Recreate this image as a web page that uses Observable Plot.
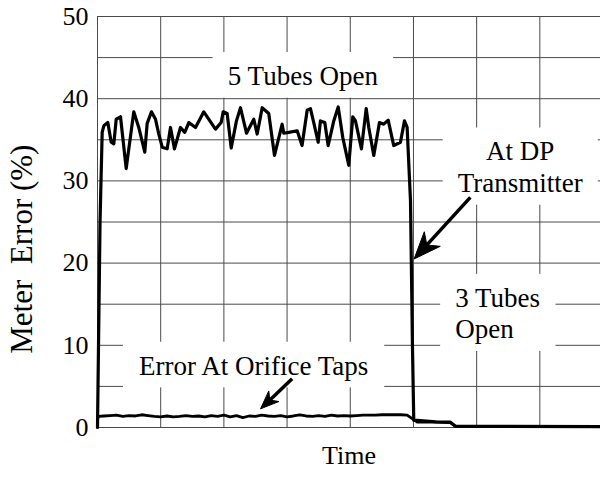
<!DOCTYPE html>
<html><head><meta charset="utf-8">
<script src="https://cdn.jsdelivr.net/npm/d3@7"></script>
<script src="https://cdn.jsdelivr.net/npm/@observablehq/plot@0.6"></script>
<style>body{margin:0;background:#fff} svg{display:block}</style>
</head><body><div id="chart"></div>
<script>
// DP transmitter meter error (%) vs time (grid units)
const dpTime = [0, 0.04, 0.074, 0.10, 0.163, 0.217, 0.258, 0.296, 0.364, 0.454, 0.574, 0.653, 0.748, 0.786, 0.854, 0.918, 0.97, 1.024, 1.103, 1.155, 1.218, 1.313, 1.381, 1.445, 1.551, 1.682, 1.867, 1.957, 1.989, 2.052, 2.116, 2.199, 2.263, 2.358, 2.473, 2.527, 2.606, 2.710, 2.801, 2.922, 2.948, 3.027, 3.160, 3.237, 3.318, 3.370, 3.422, 3.492, 3.528, 3.597, 3.650, 3.739, 3.809, 3.881, 3.976, 4.040, 4.082, 4.177, 4.252, 4.293, 4.372, 4.462, 4.530, 4.600, 4.688, 4.794, 4.858, 4.900, 4.953, 4.984, 5.005, 5.11, 5.35, 5.585, 5.665, 7.96];
const dpError = [0, 25, 35.9, 36.7, 37.1, 34.7, 34.5, 37.5, 37.8, 31.5, 38.4, 36.5, 33.5, 37.0, 38.4, 37.5, 35.7, 34.1, 33.9, 36.5, 33.9, 36.5, 35.9, 37.1, 36.5, 38.4, 36.3, 37.1, 38.4, 38.2, 34.0, 37.3, 38.9, 35.8, 37.5, 35.7, 38.9, 38.2, 33.1, 36.9, 35.8, 35.9, 36.1, 34.3, 38.6, 38.8, 37.1, 34.7, 37.3, 37.1, 34.3, 37.3, 39.0, 35.3, 31.9, 37.8, 37.3, 33.9, 38.8, 36.5, 33.1, 37.1, 36.9, 37.4, 34.3, 34.7, 37.3, 36.5, 27.6, 10, 0.9, 0.85, 0.7, 0.65, 0.15, 0.1];

// Orifice taps meter error (%)
const orTime = [0, 0.02, 0.1, 0.2, 0.3, 0.4, 0.5, 0.6, 0.7, 0.8, 0.9, 1.0, 1.1, 1.2, 1.3, 1.4, 1.5, 1.6, 1.7, 1.8, 1.9, 2.0, 2.1, 2.2, 2.3, 2.4, 2.5, 2.6, 2.7, 2.8, 2.9, 3.0, 3.1, 3.2, 3.3, 3.4, 3.5, 3.6, 3.7, 3.8, 3.9, 4.0, 4.1, 4.2, 4.3, 4.4, 4.5, 4.6, 4.7, 4.8, 4.9, 5.06, 5.3, 5.585, 5.665, 7.96];
const orError = [1.1, 1.35, 1.4, 1.45, 1.5, 1.35, 1.45, 1.4, 1.55, 1.45, 1.35, 1.3, 1.4, 1.3, 1.35, 1.45, 1.35, 1.4, 1.3, 1.45, 1.35, 1.5, 1.3, 1.45, 1.2, 1.4, 1.35, 1.5, 1.4, 1.35, 1.45, 1.3, 1.4, 1.55, 1.4, 1.35, 1.45, 1.35, 1.5, 1.4, 1.45, 1.4, 1.45, 1.5, 1.5, 1.5, 1.55, 1.55, 1.55, 1.55, 1.5, 0.65, 0.65, 0.6, 0.15, 0.1];

const yTicks = [0, 10, 20, 30, 40, 50];
const xGrid = [0, 1, 2, 3, 4, 5, 6, 7];
const yGrid = [0, 5, 10, 15, 20, 25, 30, 35, 40, 45, 50];

const notesMiddle = [
  {text: "5 Tubes Open", t: 3.25, v: 42.9},
  {text: "At DP\nTransmitter", t: 6.69, v: 31.8},
  {text: "Error At Orifice Taps", t: 2.47, v: 7.66}
];
const notesStart = [
  {text: "3 Tubes\nOpen", t: 5.66, v: 14.0}
];
const arrows = [
  {t1: 5.90, v1: 28.0, t2: 5.01, v2: 20.5},
  {t1: 3.08, v1: 5.92, t2: 2.58, v2: 2.27}
];
const yLabel = [{text: "Meter\u00a0 Error (%)", v: 21.7}];
const xLabel = ["Time"];

const dp = dpTime.map((t, i) => ({t, v: dpError[i]}));
const orifice = orTime.map((t, i) => ({t, v: orError[i]}));

const SVGNS = "http://www.w3.org/2000/svg";
const serifName = "Liberation Serif";
const serif = "'Liberation Serif','Times New Roman',serif";
const noteSize = 27, noteLH = 1.17;
const measureCtx = document.createElement("canvas").getContext("2d");

// white box behind annotation text (like the original's label boxes)
function boxRender(data, anchor) {
  return function (index, scales, values, dimensions, context, next) {
    const g = next(index, scales, values, dimensions, context);
    measureCtx.font = `${noteSize}px '${serifName}'`;
    const padX = 15, padY = 7;
    for (const i of index) {
      const lines = data[i].text.split("\n");
      const w = Math.max(...lines.map(l => measureCtx.measureText(l).width));
      const h = lines.length * noteLH * noteSize;
      const cx = values.x[i], cy = values.y[i];
      const x0 = anchor === "middle" ? cx - w / 2 : cx;
      const r = document.createElementNS(SVGNS, "rect");
      r.setAttribute("x", x0 - padX);
      r.setAttribute("y", cy - h / 2 - padY);
      r.setAttribute("width", w + 2 * padX);
      r.setAttribute("height", h + 2 * padY);
      r.setAttribute("fill", "white");
      g.insertBefore(r, g.firstChild);
    }
    return g;
  };
}

// shaft drawn by Plot.link, filled arrowhead added at the scaled end point
function arrowRender(index, scales, values, dimensions, context, next) {
  const X1 = values.x1, Y1 = values.y1, X2 = values.x2, Y2 = values.y2;
  const heads = [];
  const sx2 = Float64Array.from(X2), sy2 = Float64Array.from(Y2);
  for (const i of index) {
    const dx = X2[i] - X1[i], dy = Y2[i] - Y1[i], len = Math.hypot(dx, dy);
    const ux = dx / len, uy = dy / len, nx = -uy, ny = ux;
    const L = Math.min(27, len * 0.42), W = L * 0.4, N = L * 0.7;
    const tx = X2[i], ty = Y2[i];
    heads.push([[tx, ty], [tx - ux * L + nx * W, ty - uy * L + ny * W], [tx - ux * N, ty - uy * N], [tx - ux * L - nx * W, ty - uy * L - ny * W]]);
    sx2[i] = tx - ux * N * 0.9; sy2[i] = ty - uy * N * 0.9;
  }
  const g = next(index, scales, {...values, x2: sx2, y2: sy2}, dimensions, context);
  for (const pts of heads) {
    const path = document.createElementNS(SVGNS, "path");
    path.setAttribute("d", "M" + pts.map(p => p.join(",")).join("L") + "Z");
    path.setAttribute("fill", "black");
    path.setAttribute("stroke", "black");
    path.setAttribute("stroke-width", "1");
    g.appendChild(path);
  }
  return g;
}

const chart = Plot.plot({
  width: 600, height: 490,
  marginLeft: 97, marginRight: 0, marginTop: 16, marginBottom: 63,
  x: {domain: [0, 7.96], axis: null},
  y: {domain: [0, 50]},
  style: {fontFamily: serif, fontSize: "26px", background: "white", color: "black"},
  marks: [
    Plot.gridX(xGrid, {stroke: "#4a4a4a", strokeOpacity: 1, strokeWidth: 1}),
    Plot.gridY(yGrid, {stroke: "#4a4a4a", strokeOpacity: 1, strokeWidth: 1}),
    Plot.axisY(yTicks, {tickSize: 0, tickPadding: 9, label: null, fontSize: 26}),
    Plot.text(notesMiddle, {x: "t", y: "v", text: "text", textAnchor: "middle", lineAnchor: "middle", lineHeight: noteLH, fontSize: noteSize, fill: "black", render: boxRender(notesMiddle, "middle")}),
    Plot.text(notesStart, {x: "t", y: "v", text: "text", textAnchor: "start", lineAnchor: "middle", lineHeight: noteLH, fontSize: noteSize, fill: "black", render: boxRender(notesStart, "start")}),
    Plot.line(orifice, {x: "t", y: "v", stroke: "black", strokeWidth: 2.8, strokeLinejoin: "round"}),
    Plot.line(dp, {x: "t", y: "v", stroke: "black", strokeWidth: 3.2, strokeLinejoin: "round"}),
    Plot.link(arrows, {x1: "t1", y1: "v1", x2: "t2", y2: "v2", stroke: "black", strokeWidth: 3.5, render: arrowRender}),
    Plot.text(yLabel, {y: "v", text: "text", frameAnchor: "left", dx: -75, rotate: -90, textAnchor: "middle", lineAnchor: "middle", fontSize: 31}),
    Plot.text(xLabel, {frameAnchor: "bottom", dy: 28, textAnchor: "middle", lineAnchor: "middle", fontSize: 26})
  ]
});
document.getElementById("chart").appendChild(chart);
</script>
</body></html>
